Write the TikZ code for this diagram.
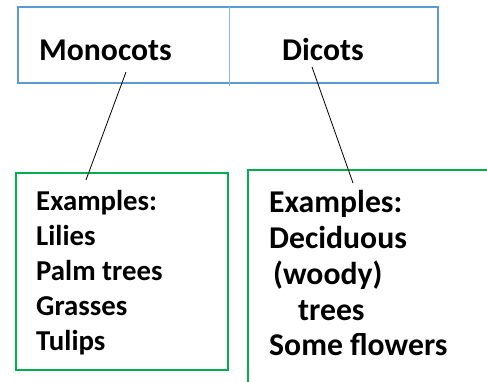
\documentclass[tikz,border=0pt]{standalone}
\usepackage{fontspec}
\setmainfont{Carlito}
\definecolor{frameblue}{RGB}{91,155,213}
\definecolor{dividerblue}{RGB}{140,185,228}
\definecolor{boxgreen}{RGB}{0,176,80}
\begin{document}
\begin{tikzpicture}[x=1pt,y=-1pt,
  headtxt/.style={anchor=base west,inner sep=0pt,font=\fontsize{31.7}{38}\selectfont\bfseries},
  lefttxt/.style={anchor=base west,inner sep=0pt,font=\fontsize{28.8}{34}\selectfont\bfseries},
  righttxt/.style={anchor=base west,inner sep=0pt,font=\fontsize{31.7}{38}\selectfont\bfseries},
  link/.style={draw=black,line width=0.8pt}]
\useasboundingbox (0,0) rectangle (487,381);
% classification header
\draw[frameblue,line width=2.4pt] (18,7) rectangle (438,83);
\draw[dividerblue,line width=0.8pt] (229.5,7) -- (229.5,86);
\node[headtxt] (mono) at (39,60) {Monocots};
\node[headtxt] (dico) at (282,60) {Dicots};
% example boxes
\draw[boxgreen,line width=1.6pt] (16,173) rectangle (228,370);
\draw[boxgreen,line width=1.6pt] (490,170) -- (248,170) -- (248,384);
\node[lefttxt] (l1) at (36,210) {Examples:};
\node[lefttxt] (l2) at (36,245) {Lilies};
\node[lefttxt] (l3) at (36,280) {Palm trees};
\node[lefttxt] (l4) at (36,315) {Grasses};
\node[lefttxt] (l5) at (36,350) {Tulips};
\node[righttxt] (r1) at (269,212) {Examples:};
\node[righttxt] (r2) at (269,248) {Deciduous};
\node[righttxt] (r3) at (273,284) {(woody)};
\node[righttxt] (r4) at (298,320) {trees};
\node[righttxt] (r5) at (269,355) {Some flowers};
% connectors
\coordinate (monoend) at (126,72);
\coordinate (monobox) at (86,180);
\coordinate (dicoend) at (312,67);
\coordinate (dicobox) at (353,183);
\draw[link] (monoend) -- (monobox);
\draw[link] (dicoend) -- (dicobox);
\end{tikzpicture}
\end{document}
